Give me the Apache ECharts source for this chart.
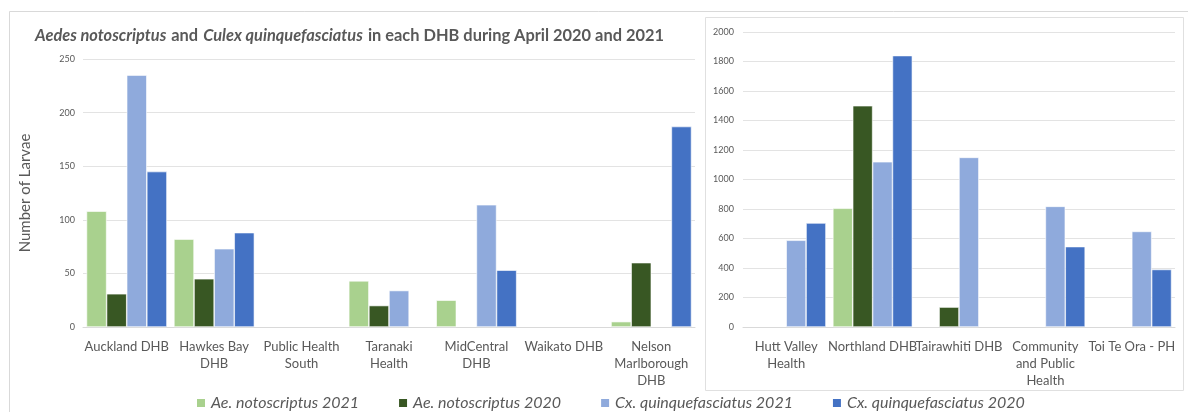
<!DOCTYPE html>
<html>
<head>
<meta charset="utf-8">
<script src="https://cdn.jsdelivr.net/npm/echarts@6/dist/echarts.min.js"></script>
<style>
  html, body { margin: 0; padding: 0; background: #fff; }
  #chart { width: 1188px; height: 412px; }
</style>
</head>
<body>
<div id="chart"></div>
<script>
  // left panel: smaller counts
  const leftCategories = ['Auckland DHB', 'Hawkes Bay\nDHB', 'Public Health\nSouth', 'Taranaki\nHealth',
    'MidCentral\nDHB', 'Waikato DHB', 'Nelson\nMarlborough\nDHB']
  const leftAe2021 = [108, 82, 0, 43, 25, 0, 5]
  const leftAe2020 = [31, 45, 0, 20, 0, 0, 60]
  const leftCx2021 = [235, 73, 0, 34, 114, 0, 0]
  const leftCx2020 = [145, 88, 0, 0, 53, 0, 187]

  // right panel: larger counts
  const rightCategories = ['Hutt Valley\nHealth', 'Northland DHB', 'Tairawhiti DHB',
    'Community\nand Public\nHealth', 'Toi Te Ora - PH']
  const rightAe2021 = [0, 805, 0, 0, 0]
  const rightAe2020 = [0, 1500, 135, 0, 0]
  const rightCx2021 = [588, 1120, 1150, 818, 648]
  const rightCx2020 = [705, 1840, 0, 545, 390]

  const seriesNames = ['Ae. notoscriptus 2021', 'Ae. notoscriptus 2020',
    'Cx. quinquefasciatus 2021', 'Cx. quinquefasciatus 2020']
  const colors = ['#A9D18E', '#385723', '#8FAADC', '#4472C4']

  const font = 'Lato, "Open Sans", sans-serif'
  const textColor = '#595959'

  const chart = echarts.init(document.getElementById('chart'))

  function bars(data, idx) {
    return data.map((list, i) => ({
      name: seriesNames[i],
      type: 'bar',
      xAxisIndex: idx,
      yAxisIndex: idx,
      data: list.map(v => v === 0 ? null : v),
      barGap: '0%',
      barCategoryGap: '8%',
      itemStyle: { color: colors[i], borderColor: '#fff', borderWidth: 0.6 },
      animation: false
    }))
  }

  const xAxisBase = {
    type: 'category',
    axisTick: { show: false },
    axisLine: { lineStyle: { color: '#D9D9D9' } },
    axisLabel: { color: textColor, fontSize: 13, fontFamily: font, lineHeight: 17, interval: 0, margin: 11 }
  }
  const yAxisBase = {
    type: 'value',
    min: 0,
    axisLine: { show: false },
    axisTick: { show: false },
    splitLine: { lineStyle: { color: '#E3E3E3' } }
  }

  chart.setOption({
    backgroundColor: '#fff',
    title: {
      text: '{i|Aedes notoscriptus} {b|and} {i|Culex quinquefasciatus} {b|in each DHB during April 2020 and 2021}',
      left: 30,
      top: 22,
      textStyle: {
        rich: {
          i: { fontStyle: 'italic', fontWeight: 'bold', fontSize: 16.4, color: textColor, fontFamily: font },
          b: { fontWeight: 'bold', fontSize: 16.4, color: textColor, fontFamily: font }
        }
      }
    },
    legend: {
      data: seriesNames,
      left: 190,
      top: 390,
      itemWidth: 10,
      itemHeight: 10,
      itemGap: 38,
      icon: 'rect',
      textStyle: { color: textColor, fontSize: 16, fontStyle: 'italic', fontFamily: font }
    },
    graphic: [
      { type: 'polyline', shape: { points: [[9.5, 412], [9.5, 11.5], [1188, 11.5]] },
        style: { stroke: '#D9D9D9', fill: null, lineWidth: 1 }, silent: true },
      { type: 'rect', shape: { x: 705.5, y: 17.5, width: 478, height: 373 },
        style: { stroke: '#E0E0E0', fill: null, lineWidth: 1 }, silent: true }
    ],
    grid: [
      { left: 83, right: 493, top: 59, bottom: 85 },
      { left: 743, right: 13, top: 32, bottom: 85 }
    ],
    xAxis: [
      Object.assign({}, xAxisBase, { gridIndex: 0, data: leftCategories }),
      Object.assign({}, xAxisBase, { gridIndex: 1, data: rightCategories })
    ],
    yAxis: [
      Object.assign({}, yAxisBase, {
        gridIndex: 0, max: 250, interval: 50,
        name: 'Number of Larvae', nameLocation: 'middle', nameGap: 50,
        nameTextStyle: { color: textColor, fontSize: 15, fontFamily: font },
        axisLabel: { color: textColor, fontSize: 9, fontFamily: font, margin: 8 }
      }),
      Object.assign({}, yAxisBase, {
        gridIndex: 1, max: 2000, interval: 200,
        axisLabel: { color: textColor, fontSize: 9, fontFamily: font, margin: 9, formatter: v => String(v) }
      })
    ],
    series: [].concat(
      bars([leftAe2021, leftAe2020, leftCx2021, leftCx2020], 0),
      bars([rightAe2021, rightAe2020, rightCx2021, rightCx2020], 1)
    )
  })
</script>
</body>
</html>
